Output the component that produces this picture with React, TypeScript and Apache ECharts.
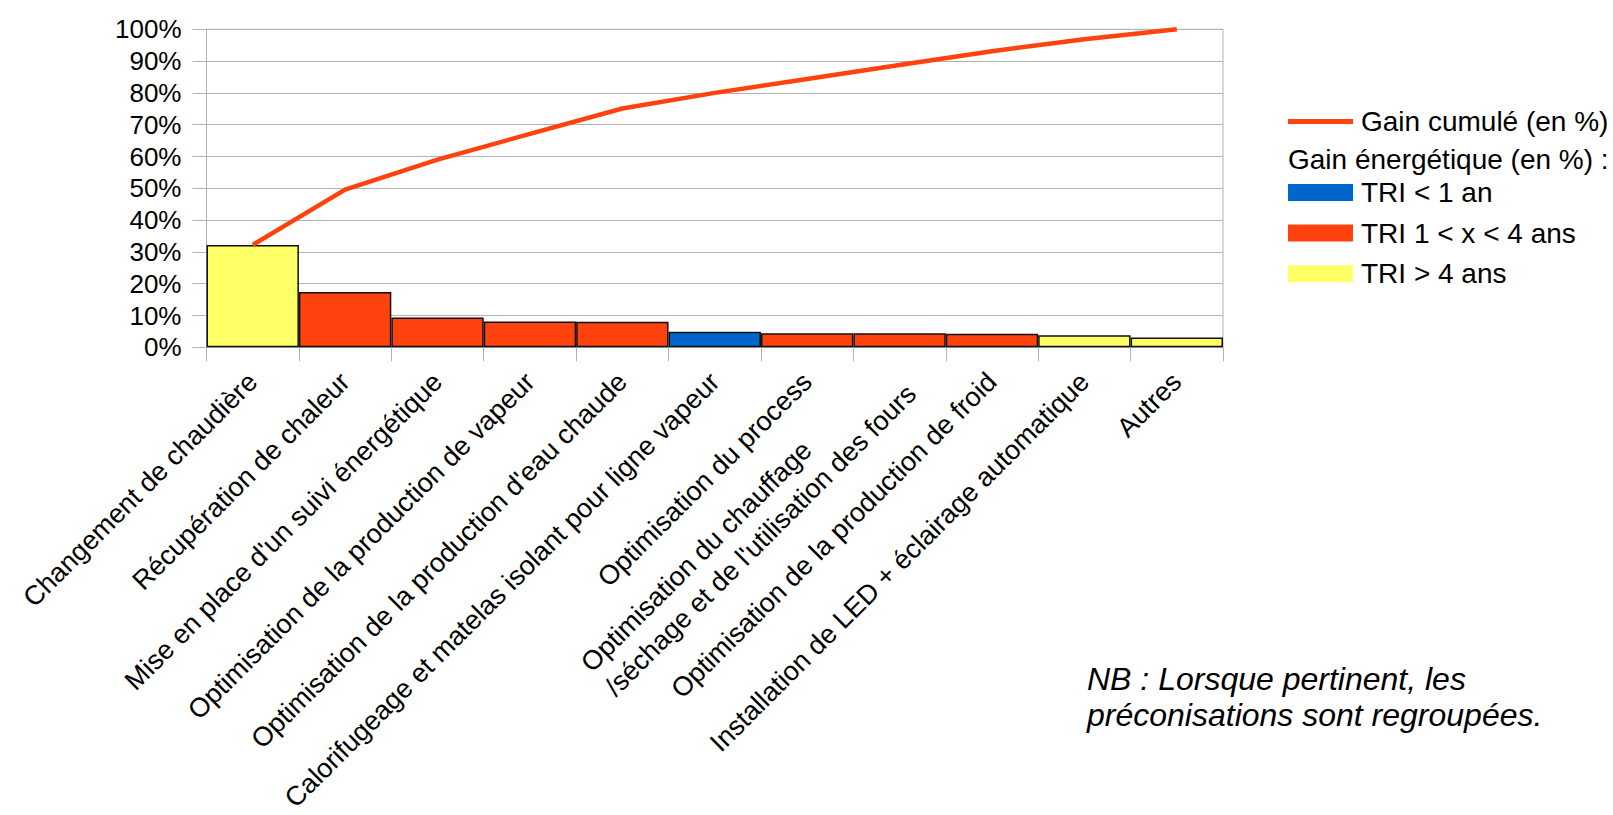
import React, { useEffect, useRef } from "react";
import * as echarts from "echarts";

// Actions, sorted by energy gain
const categories = [
  "Changement de chaudière",
  "Récupération de chaleur",
  "Mise en place d'un suivi énergétique",
  "Optimisation de la production de vapeur",
  "Optimisation de la production d'eau chaude",
  "Calorifugeage et matelas isolant pour ligne vapeur",
  "Optimisation du process",
  "Optimisation du chauffage\n/séchage et de l'utilisation des fours",
  "Optimisation de la production de froid",
  "Installation de LED + éclairage automatique",
  "Autres",
];

// Energy gain per action (in %)
const gains = [32.2, 17.4, 9.4, 8.1, 8.0, 4.9, 4.4, 4.4, 4.3, 3.8, 3.1];

// Cumulative gain (in %)
const cumulative = [32.2, 49.6, 59.0, 67.1, 75.1, 80.0, 84.4, 88.8, 93.1, 96.9, 100];

// Payback class of each action
const triClass = ["gt4", "1to4", "1to4", "1to4", "1to4", "lt1", "1to4", "1to4", "1to4", "gt4", "gt4"];

const triGroups = [
  { key: "lt1", name: "TRI < 1 an", color: "#0066cc" },
  { key: "1to4", name: "TRI 1 < x < 4 ans", color: "#ff420e" },
  { key: "gt4", name: "TRI > 4 ans", color: "#ffff66" },
];

const yTicks = [0, 10, 20, 30, 40, 50, 60, 70, 80, 90, 100];

const FONT = "Liberation Sans, Arial, sans-serif";

export default function App() {
  const ref = useRef<HTMLDivElement>(null);

  useEffect(() => {
    if (!ref.current) return;
    const chart = echarts.init(ref.current, null, { renderer: "svg" });

    const barSeries = triGroups.map((g) => ({
      name: g.name,
      type: "bar" as const,
      stack: "gain",
      barCategoryGap: "0%",
      data: gains.map((v, i) => (triClass[i] === g.key ? v : "-")),
      itemStyle: { color: g.color, borderColor: "#111", borderWidth: 1.5 },
      z: 2,
    }));

    const legendText = {
      fontFamily: FONT,
      fontSize: 28,
      color: "#000",
      lineHeight: 28,
      padding: [0, 0, 0, 3],
    };

    chart.setOption({
      animation: false,
      backgroundColor: "#fff",
      grid: {
        left: 206.5,
        right: 390,
        top: 29.3,
        bottom: 467.7,
        outerBoundsMode: "none",
        containLabel: false,
        show: true,
        borderColor: "#b3b3b3",
        borderWidth: 1,
      },
      legend: [
        {
          orient: "vertical",
          left: 1288,
          top: 107.5,
          padding: 0,
          itemWidth: 65,
          itemHeight: 5,
          selectedMode: false,
          icon: "rect",
          itemStyle: { borderWidth: 0 },
          data: ["Gain cumulé (en %)"],
          textStyle: legendText,
        },
        {
          orient: "vertical",
          left: 1288,
          top: 178.5,
          padding: 0,
          itemWidth: 65,
          itemHeight: 17,
          itemGap: 12.6,
          selectedMode: false,
          icon: "rect",
          itemStyle: { borderWidth: 0 },
          data: triGroups.map((g) => g.name),
          textStyle: legendText,
        },
      ],
      graphic: [
        {
          type: "text",
          left: 1288,
          top: 145.5,
          style: {
            text: "Gain énergétique (en %) :",
            font: `28px ${FONT}`,
            fill: "#000",
          },
        },
        {
          type: "text",
          left: 1087,
          top: 661,
          style: {
            text: "NB : Lorsque pertinent, les\npréconisations sont regroupées.",
            font: `italic 32px ${FONT}`,
            lineHeight: 36,
            fill: "#000",
          },
        },
      ],
      xAxis: {
        type: "category",
        data: categories,
        boundaryGap: true,
        axisLine: { show: true, lineStyle: { color: "#b3b3b3", width: 1 } },
        axisTick: { show: true, length: 14, lineStyle: { color: "#b3b3b3", width: 1 } },
        axisLabel: {
          interval: 0,
          rotate: 45,
          margin: 30,
          fontFamily: FONT,
          fontSize: 27,
          color: "#000",
          lineHeight: 34,
          formatter: (v: string) =>
            v.indexOf("\n") >= 0
              ? v
                  .split("\n")
                  .map((s) => `{l|${s}}`)
                  .join("\n")
              : v,
          rich: {
            l: { align: "left", fontFamily: FONT, fontSize: 27, color: "#000", lineHeight: 34 },
          },
        },
        splitLine: { show: false },
      },
      yAxis: {
        type: "value",
        min: yTicks[0],
        max: yTicks[yTicks.length - 1],
        interval: 10,
        axisLine: { show: true, lineStyle: { color: "#b3b3b3", width: 1 } },
        axisTick: { show: true, length: 14, lineStyle: { color: "#b3b3b3", width: 1 } },
        axisLabel: {
          margin: 25,
          fontFamily: FONT,
          fontSize: 26,
          color: "#000",
          formatter: "{value}%",
        },
        splitLine: { show: true, lineStyle: { color: "#b3b3b3", width: 1 } },
      },
      series: [
        {
          name: "Gain cumulé (en %)",
          type: "line",
          data: cumulative,
          showSymbol: false,
          symbol: "none",
          lineStyle: { color: "#ff420e", width: 4.5 },
          itemStyle: { color: "#ff420e" },
          z: 5,
        },
        ...barSeries,
      ],
    });

    return () => chart.dispose();
  }, []);

  return (
    <div
      ref={ref}
      style={{ position: "absolute", left: 0, top: 0, width: 1613, height: 815 }}
    />
  );
}
